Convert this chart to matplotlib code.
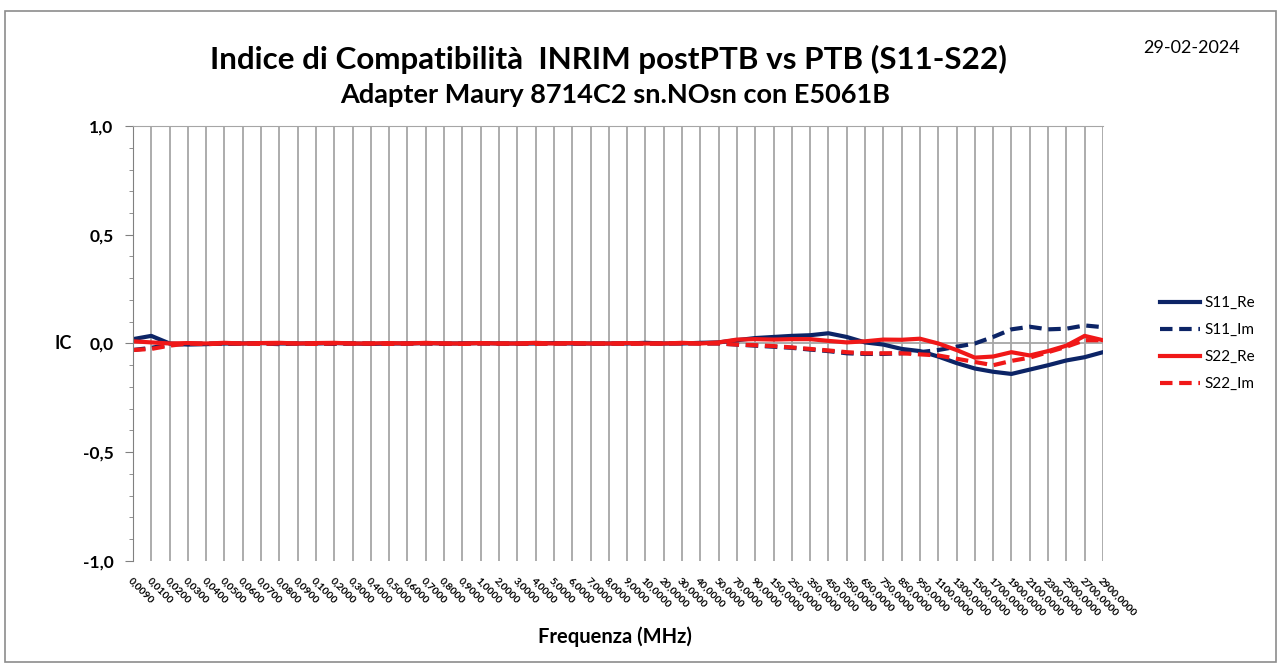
import matplotlib.pyplot as plt
from matplotlib.patches import Rectangle

# frequency points (MHz) used as category labels
freqs = [0.009, 0.01, 0.02, 0.03, 0.04, 0.05, 0.06, 0.07, 0.08, 0.09,
         0.1, 0.2, 0.3, 0.4, 0.5, 0.6, 0.7, 0.8, 0.9,
         1, 2, 3, 4, 5, 6, 7, 8, 9, 10, 20, 30, 40, 50, 70, 90,
         150, 250, 350, 450, 550, 650, 750, 850, 950,
         1100, 1300, 1500, 1700, 1900, 2100, 2300, 2500, 2700, 2900]

s11_re = [0.02, 0.035, 0.0, -0.005, -0.003, 0.0, 0.0, 0.002, 0.0, 0.0,
          0.0, 0.002, 0.0, -0.002, 0.0, 0.0, 0.002, 0.0, 0.0,
          0.002, 0.0, 0.0, 0.0, 0.002, 0.0, 0.0, 0.0, 0.0, 0.003, 0.0, 0.0, 0.003,
          0.005, 0.015, 0.025, 0.03, 0.035, 0.038, 0.047, 0.03, 0.005,
          -0.005, -0.025, -0.035, -0.06, -0.09, -0.115, -0.13, -0.14,
          -0.12, -0.1, -0.078, -0.063, -0.04]
s11_im = [-0.03, -0.02, -0.005, -0.002, 0.0, -0.002, 0.0, 0.0, -0.003, 0.0,
          0.0, -0.002, 0.0, 0.0, -0.002, 0.0, 0.0, -0.002, 0.0,
          0.0, 0.0, -0.002, 0.0, 0.0, 0.0, -0.002, 0.0, 0.0, 0.0, 0.0, 0.002, 0.0,
          0.0, -0.005, -0.01, -0.015, -0.02, -0.028, -0.035, -0.045, -0.048,
          -0.048, -0.045, -0.04, -0.03, -0.015, 0.0, 0.03, 0.065,
          0.077, 0.065, 0.068, 0.083, 0.075]
s22_re = [0.01, 0.005, 0.0, 0.002, 0.0, 0.003, 0.0, 0.002, 0.003, 0.0,
          0.002, 0.003, 0.0, 0.0, 0.002, 0.0, 0.003, 0.0, 0.0,
          0.002, 0.0, 0.0, 0.003, 0.0, 0.002, 0.0, 0.0, 0.002, 0.0, 0.0, 0.003, 0.0,
          0.005, 0.018, 0.02, 0.018, 0.02, 0.02, 0.012, 0.005, 0.01,
          0.018, 0.017, 0.022, 0.0, -0.03, -0.065, -0.06, -0.04,
          -0.055, -0.035, -0.01, 0.035, 0.015]
s22_im = [-0.03, -0.025, -0.01, 0.0, -0.003, 0.0, 0.0, -0.002, 0.0, 0.0,
          -0.002, 0.0, 0.0, 0.0, -0.002, 0.0, 0.0, 0.0, -0.002,
          0.0, 0.0, 0.0, -0.002, 0.0, 0.0, 0.0, 0.0, -0.002, 0.0, 0.0, 0.0, 0.0,
          0.0, -0.005, -0.008, -0.012, -0.018, -0.025, -0.032, -0.04, -0.045,
          -0.045, -0.045, -0.05, -0.055, -0.07, -0.085, -0.1, -0.08,
          -0.065, -0.04, -0.015, 0.015, 0.015]

y_ticks = [-1.0, -0.5, 0.0, 0.5, 1.0]

navy = "#0c2466"
red = "#f01818"
grid_c = "#a6a6a6"

plt.rcParams['font.family'] = ['Lato', 'DejaVu Sans']

fig = plt.figure(figsize=(12.81, 6.66), dpi=100)
fig.patches.append(Rectangle((0.004, 0.006), 0.992, 0.978, transform=fig.transFigure,
                             fill=False, edgecolor="#8c8c8c", linewidth=1.2))

ax = fig.add_axes([0.1038, 0.1577, 0.7572, 0.6531])
x = list(range(len(freqs)))

ax.plot(x, s11_re, color=navy, lw=3, label="S11_Re")
ax.plot(x, s11_im, color=navy, lw=3, ls=(0, (3, 1.6)), label="S11_Im")
ax.plot(x, s22_re, color=red, lw=3, label="S22_Re")
ax.plot(x, s22_im, color=red, lw=3, ls=(0, (3, 1.6)), label="S22_Im")

ax.set_xlim(0, len(freqs) - 1)
ax.set_ylim(-1, 1)
ax.set_xticks(x)
ax.set_xticklabels([f"{f:.4f}".replace(".", ",") for f in freqs],
                   rotation=-45, ha="left", va="top", rotation_mode="anchor",
                   fontsize=7.5, fontweight="bold")
ax.tick_params(axis="x", length=0, pad=11)
ax.xaxis.grid(True, color=grid_c, lw=1.3)
ax.axhline(0, color=grid_c, lw=1.3, zorder=0)

ax.set_yticks(y_ticks)
ax.set_yticklabels([f"{v:.1f}".replace(".", ",") for v in y_ticks],
                   fontsize=12.5, fontweight="bold")
ax.set_yticks([v / 10 for v in range(-10, 11)], minor=True)
ax.tick_params(axis="y", which="major", length=6, color="#808080", pad=8)
ax.tick_params(axis="y", which="minor", length=3, color="#808080")

for s in ["right", "bottom"]:
    ax.spines[s].set_visible(False)
ax.spines["left"].set_color("#808080")
ax.spines["top"].set_color(grid_c)

ax.set_ylabel("IC", fontsize=13, fontweight="bold", rotation=0, labelpad=14, va="center")
fig.text(0.48, 0.044, "Frequenza (MHz)", ha="center", va="center",
         fontsize=14.5, fontweight="bold")

fig.text(0.475, 0.91, "Indice di Compatibilità  INRIM postPTB vs PTB (S11-S22)",
         ha="center", va="center", fontsize=22.6, fontweight="bold")
fig.text(0.48, 0.857, "Adapter Maury 8714C2 sn.NOsn con E5061B",
         ha="center", va="center", fontsize=19.5, fontweight="bold")
fig.text(0.93, 0.928, "29-02-2024", ha="center", va="center", fontsize=13)

ax.legend(loc="center left", bbox_to_anchor=(1.045, 0.5), frameon=False,
          fontsize=11, handlelength=2.6, handletextpad=0.3, labelspacing=0.85)

fig.savefig("out.png", dpi=100)
